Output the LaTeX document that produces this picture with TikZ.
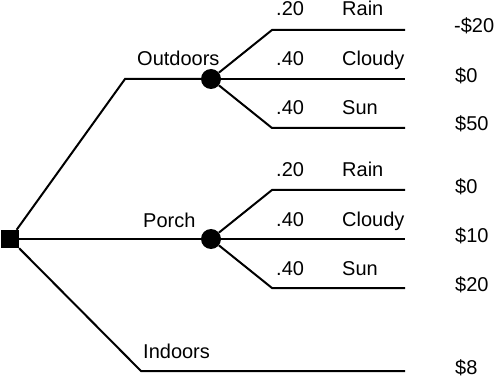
\documentclass[tikz,border=0pt]{standalone}
\usepackage{fontspec}
\setmainfont{Liberation Sans}
\usetikzlibrary{positioning}

\begin{document}
\begin{tikzpicture}[x=1pt, y=-1pt,
          decbox/.style={rectangle, fill=black, minimum size=18pt, inner sep=0pt},
          chance/.style={circle, fill=black, minimum size=20pt, inner sep=0pt},
          lbl/.style={anchor=base west, inner sep=0pt, font=\fontsize{20}{24}\selectfont},
          br/.style={line width=2pt}
        ]
          \useasboundingbox (0,0) rectangle (500,379);
          % decision and chance nodes
          \node[decbox] (dec) at (10,239) {};
          \node[chance] (out) at (211,79) {};
          \node[chance] (por) at (211,239) {};
          % knees and end points
          \coordinate (kout) at (125,79);
          \coordinate (kind) at (141,371);
          \coordinate (eind) at (405,371);
          \coordinate (ko1) at (272,30);  \coordinate (eo1) at (405,30);
          \coordinate (eo2) at (405,79);
          \coordinate (ko3) at (272,128); \coordinate (eo3) at (405,128);
          \coordinate (kp1) at (272,190); \coordinate (ep1) at (405,190);
          \coordinate (ep2) at (405,239);
          \coordinate (kp3) at (272,288); \coordinate (ep3) at (405,288);
          % branches
          \draw[br] (dec) -- (kout) -- (out);
          \draw[br] (dec) -- (por);
          \draw[br] (dec) -- (kind) -- (eind);
          \draw[br] (out) -- (ko1) -- (eo1);
          \draw[br] (out) -- (eo2);
          \draw[br] (out) -- (ko3) -- (eo3);
          \draw[br] (por) -- (kp1) -- (ep1);
          \draw[br] (por) -- (ep2);
          \draw[br] (por) -- (kp3) -- (ep3);
          % labels
          \node[lbl] (lout) at (137,66) {Outdoors};
          \node[lbl] (lpor) at (143,228) {Porch};
          \node[lbl] (lind) at (143,358) {Indoors};
          \node[lbl] (po1) at (276,16) {.20};  \node[lbl] (so1) at (342,16) {Rain};
          \node[lbl] (po2) at (276,66) {.40};  \node[lbl] (so2) at (342,66) {Cloudy};
          \node[lbl] (po3) at (276,115) {.40}; \node[lbl] (so3) at (342,115) {Sun};
          \node[lbl] (pp1) at (276,177) {.20}; \node[lbl] (sp1) at (342,177) {Rain};
          \node[lbl] (pp2) at (276,226) {.40}; \node[lbl] (sp2) at (342,226) {Cloudy};
          \node[lbl] (pp3) at (276,275) {.40}; \node[lbl] (sp3) at (342,275) {Sun};
          % payoffs
          \node[lbl] (vo1) at (454,33) {-\$20};
          \node[lbl] (vo2) at (455,83) {\$0};
          \node[lbl] (vo3) at (455,131) {\$50};
          \node[lbl] (vp1) at (455,194) {\$0};
          \node[lbl] (vp2) at (455,243) {\$10};
          \node[lbl] (vp3) at (455,291) {\$20};
          \node[lbl] (vind) at (455,374) {\$8};
        \end{tikzpicture}
\end{document}
